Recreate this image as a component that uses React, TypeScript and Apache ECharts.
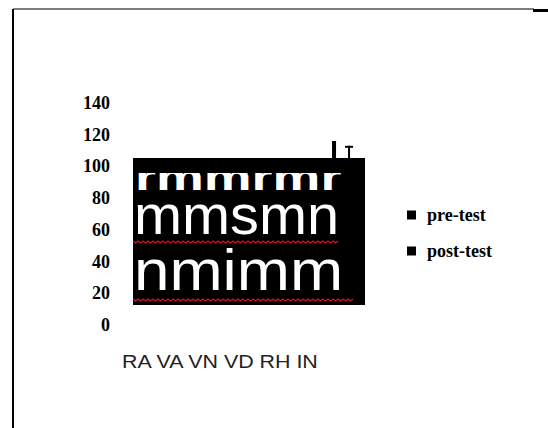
import React, { useEffect, useRef } from "react";
import * as echarts from "echarts";

const categories = ["RA", "VA", "VN", "VD", "RH", "IN"];
const preTest = [96, 94, 98, 95, 100, 104];
const preErr = [4, 5, 3, 4, 3, 12];
const postTest = [95, 93, 97, 94, 99, 104];
const postErr = [3, 4, 3, 3, 2, 9];
const yTicks = { min: 0, max: 140, interval: 20 };
const overlayLines = ["rmmrmr", "mmsmn", "nmimm"];

const BAR_W = 4;
const BAR_GAP = 2.75;

function zigzag(x0: number, x1: number, y: number, amp: number, step: number) {
  const pts: number[][] = [];
  let k = 0;
  for (let x = x0; x <= x1; x += step) {
    pts.push([x, y + (k % 2 === 0 ? -amp : amp)]);
    k++;
  }
  return pts;
}

const sans = '"Liberation Sans", Arial, sans-serif';

function baselineText(text: string, x: number, baseline: number, fs: number, opts: any = {}) {
  const { scaleX = 1, scaleY = 1, weight = "normal", fill = "#fff", z = 101 } = opts;
  return {
    type: "text",
    z,
    x,
    y: baseline,
    scaleX,
    scaleY,
    style: {
      text,
      x: 0,
      y: -0.3465 * fs,
      fill,
      font: weight + " " + fs + "px " + sans,
      align: "left",
      textAlign: "left",
      verticalAlign: "middle",
      textVerticalAlign: "middle",
    },
  };
}

export default function App() {
  const ref = useRef<HTMLDivElement>(null);
  useEffect(() => {
    document.body.style.margin = "0";
    if (!ref.current) return;
    const chart = echarts.init(ref.current, undefined, { renderer: "svg" });
    const off = (BAR_W * (1 + BAR_GAP)) / 2;
    const errSeries = (name: string, vals: number[], errs: number[], dx: number, stemW: number, capW: number) => ({
      type: "custom",
      name,
      z: 5,
      data: vals.map((v, i) => [i, v, errs[i]]),
      renderItem: (params: any, api: any) => {
        const i = api.value(0);
        const v = api.value(1);
        const e = api.value(2);
        const b = api.coord([i, v]);
        const t = api.coord([i, v + e]);
        const cx = b[0] + dx;
        return {
          type: "group",
          children: [
            { type: "rect", shape: { x: cx - stemW / 2, y: t[1], width: stemW, height: b[1] - t[1] }, style: { fill: "#000" } },
            { type: "rect", shape: { x: cx - capW / 2, y: t[1], width: capW, height: 2 }, style: { fill: "#000" } },
          ],
        };
      },
    });
    chart.setOption({
      animation: false,
      backgroundColor: "#fff",
      grid: { left: 133, right: 187.5, top: 103, bottom: 103 },
      legend: {
        orient: "vertical",
        left: 407,
        top: 206,
        padding: 0,
        itemGap: 18,
        itemWidth: 9,
        itemHeight: 9,
        icon: "rect",
        data: [
          { name: "pre-test", itemStyle: { color: "#000" } },
          { name: "post-test", itemStyle: { color: "#000" } },
        ],
        textStyle: {
          fontFamily: '"Liberation Serif", "Times New Roman", serif',
          fontWeight: "bold",
          fontSize: 18,
          lineHeight: 18,
          color: "#000",
          padding: [0, 0, 0, 6],
        },
      },
      xAxis: {
        type: "category",
        data: categories,
        axisLine: { show: false },
        axisTick: { show: false },
        axisLabel: { show: false },
      },
      yAxis: {
        type: "value",
        min: yTicks.min,
        max: yTicks.max,
        interval: yTicks.interval,
        axisLine: { show: false },
        axisTick: { show: false },
        splitLine: { show: false },
        axisLabel: {
          margin: 23,
          fontFamily: '"Liberation Serif", "Times New Roman", serif',
          fontWeight: "bold",
          fontSize: 18,
          color: "#000",
        },
      },
      series: [
        { type: "bar", name: "pre-test", data: preTest, barWidth: BAR_W, barGap: BAR_GAP * 100 + "%", itemStyle: { color: "#fff" } },
        { type: "bar", name: "post-test", data: postTest, barWidth: BAR_W, itemStyle: { color: "#fff" } },
        errSeries("pre-test error", preTest, preErr, -off, 4, 4),
        errSeries("post-test error", postTest, postErr, off, 2, 8),
      ],
      graphic: [
        { type: "line", z: 200, shape: { x1: 13, y1: 9, x2: 13, y2: 428 }, style: { stroke: "#000", lineWidth: 2 } },
        { type: "line", z: 200, shape: { x1: 13, y1: 9, x2: 534, y2: 9 }, style: { stroke: "#000", lineWidth: 1.2 } },
        { type: "line", z: 200, shape: { x1: 533, y1: 10.5, x2: 548, y2: 10.5 }, style: { stroke: "#000", lineWidth: 3 } },
        { type: "rect", z: 100, shape: { x: 133, y: 158, width: 232, height: 147 }, style: { fill: "#000" } },
        baselineText(overlayLines[0], 135, 190, 52, { scaleX: 1.035, scaleY: 0.72, weight: "bold" }),
        { type: "rect", z: 102, shape: { x: 133, y: 158, width: 232, height: 15 }, style: { fill: "#000" } },
        baselineText(overlayLines[1], 134, 234, 56, { scaleX: 1.03 }),
        baselineText(overlayLines[2], 134, 290, 58, { scaleX: 1.1 }),
        { type: "polyline", z: 103, shape: { points: zigzag(133, 338, 242, 1, 2.5) }, style: { stroke: "#e0101e", lineWidth: 1.3, fill: null } },
        { type: "polyline", z: 103, shape: { points: zigzag(133, 353, 300, 1, 2.5) }, style: { stroke: "#e0101e", lineWidth: 1.3, fill: null } },
        { type: "text", z: 101, x: 122, y: 361.5, scaleX: 1.19, style: { text: categories.join(" "), fill: "#222", font: "18px " + sans, align: "left", textAlign: "left", verticalAlign: "middle", textVerticalAlign: "middle" } },
      ],
    });
    return () => chart.dispose();
  }, []);
  return <div ref={ref} style={{ width: 548, height: 428 }} />;
}
